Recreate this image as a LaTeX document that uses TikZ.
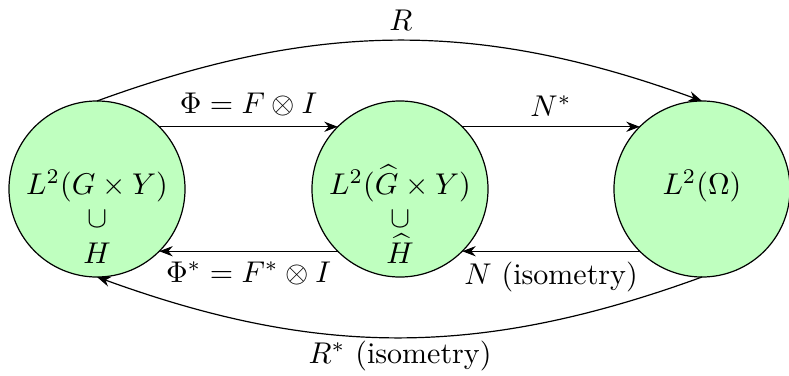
\documentclass[tikz,border=0pt]{standalone}
\usetikzlibrary{arrows.meta}
\begin{document}
\begin{tikzpicture}[x=0.3333pt,y=-0.3333pt,
  space/.style={circle,draw,fill=green!25,minimum size=58.67pt,inner sep=0pt,outer sep=0pt},
  txt/.style={anchor=base,inner sep=0pt},
  arr/.style={-{Stealth[length=4.5pt,width=3.4pt]},thin},
  lab/.style={inner sep=3.3pt}]
\useasboundingbox (0,0) rectangle (789,375);
\node[space] (L) at (97,189) {};
\node[space] (M) at (400,189) {};
\node[space] (O) at (702,189) {};
\node[txt] (L1) at (97,194) {$L^2(G\times Y)$};
\node[txt] (L2) at (97,227) {$\cup$};
\node[txt] (L3) at (97,263) {$H$};
\node[txt] (M1) at (400,194) {$L^2(\widehat{G}\times Y)$};
\node[txt] (M2) at (400,227) {$\cup$};
\node[txt] (M3) at (400,263) {$\widehat{H}$};
\node[txt] (O1) at (702,194) {$L^2(\Omega)$};
\draw[arr] (L.45) -- node[lab,above] (phi) {$\Phi=F\otimes I$} (M.135);
\draw[arr] (M.-135) -- node[lab,below] (phis) {$\Phi^*=F^*\otimes I$} (L.-45);
\draw[arr] (M.45) -- node[lab,above] (ns) {$N^*$} (O.135);
\draw[arr] (O.-135) -- node[lab,below] (n) {$N$ (isometry)} (M.-45);
\draw[arr] (L.north) to[out=20,in=160] (O.north);
\draw[arr] (O.south) to[out=-160,in=-20] (L.south);
\node (R) at (401,20) {$R$};
\node (Rs) at (400,356) {$R^*$ (isometry)};
\end{tikzpicture}
\end{document}
